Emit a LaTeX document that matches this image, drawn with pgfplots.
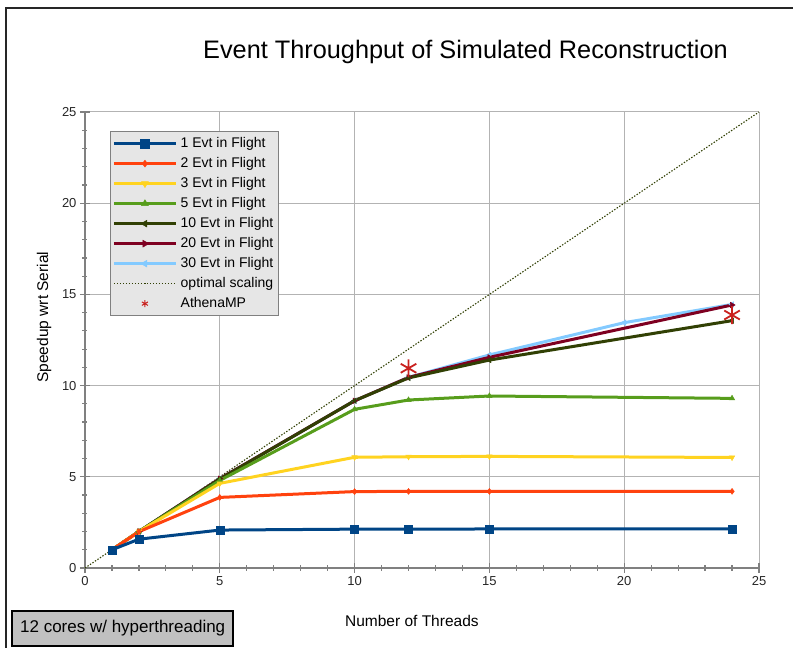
\documentclass[border=0pt]{standalone}
\usepackage{fontspec}
\setmainfont{Liberation Sans}
\usepackage{pgfplots}
\pgfplotsset{compat=1.18}
\definecolor{c1}{HTML}{004586}
\definecolor{c2}{HTML}{FF420E}
\definecolor{c3}{HTML}{FFD320}
\definecolor{c5}{HTML}{579D1C}
\definecolor{c10}{HTML}{314004}
\definecolor{c20}{HTML}{7E0021}
\definecolor{c30}{HTML}{83CAFF}
\definecolor{athena}{HTML}{C9211E}
\definecolor{axgray}{HTML}{808080}
\definecolor{gridgray}{HTML}{B3B3B3}
\definecolor{legfill}{HTML}{E6E6E6}
\definecolor{boxgray}{HTML}{C0C0C0}
\begin{document}
\begin{tikzpicture}
\path[use as bounding box] (-85pt,-80pt) rectangle (708pt,568pt);
\begin{axis}[
  at={(0pt,0pt)}, anchor=south west,
  scale only axis, width=674pt, height=456pt,
  xmin=0, xmax=25, ymin=0, ymax=25,
  xtick={0,5,...,25}, ytick={0,5,...,25},
  minor tick num=4,
  axis x line*=bottom, axis y line*=left,
  axis line style={draw=axgray, line width=2pt, -},
  grid=major, major grid style={draw=gridgray, line width=1pt},
  tick style={draw=axgray, line width=1.2pt},
  tick align=center,
  major tick length=10pt, minor tick length=5pt,
  /pgf/number format/assume math mode=true,
  ticklabel style={font=\fontsize{13}{15}\selectfont, text=black!85},
  title={Event Throughput of Simulated Reconstruction},
  title style={at={(axis description cs:0.5645,1.105)}, anchor=base, font=\fontsize{25.3}{30}\selectfont},
  xlabel={Number of Threads},
  xlabel style={at={(axis description cs:0.485,-0.129)}, anchor=base, font=\fontsize{15.5}{18}\selectfont},
  ylabel={Speedup wrt Serial},
  ylabel style={at={(axis description cs:-0.0608,0.55)}, anchor=center, font=\fontsize{15.5}{18}\selectfont},
  legend style={at={(axis description cs:0.037,0.958)}, anchor=north west,
    fill=legfill, draw=axgray, line width=1pt,
    font=\fontsize{14}{16}\selectfont,
    nodes={text height=10.5pt, text depth=3pt, inner sep=3.25pt},
    row sep=0pt, inner sep=2pt},
  legend cell align=left,
  legend image code/.code={\draw[mark repeat=2,mark phase=2] plot coordinates {(0pt,0pt)(31pt,0pt)(62pt,0pt)};},
  clip=false,
]
% optimal scaling
\addplot[c10, dash pattern=on 1.4pt off 1.6pt, line width=1.1pt, forget plot] coordinates {(0,0) (25,25)};
% 30 Evt
\addplot[c30, line width=3pt, mark=triangle*, mark size=3.2pt, mark options={solid, rotate=90, line width=0.4pt}, forget plot]
  coordinates {(1,1) (2,2) (5,4.9) (10,9.17) (12,10.45) (15,11.68) (20,13.45) (24,14.45)};
% 20 Evt
\addplot[c20, line width=3pt, mark=triangle*, mark size=3.2pt, mark options={solid, rotate=-90, line width=0.4pt}, forget plot]
  coordinates {(1,1) (2,2) (5,4.9) (10,9.17) (12,10.45) (15,11.55) (24,14.42)};
% 10 Evt
\addplot[c10, line width=3pt, mark=triangle*, mark size=3.2pt, mark options={solid, rotate=90, line width=0.4pt}, forget plot]
  coordinates {(1,1) (2,2) (5,4.88) (10,9.17) (12,10.42) (15,11.4) (24,13.56)};
% 5 Evt
\addplot[c5, line width=3pt, mark=triangle*, mark size=3.2pt, mark options={solid, line width=0.4pt}, forget plot]
  coordinates {(1,1) (2,2) (5,4.8) (10,8.7) (12,9.21) (15,9.43) (24,9.3)};
% 3 Evt
\addplot[c3, line width=3pt, mark=triangle*, mark size=3.2pt, mark options={solid, rotate=180, line width=0.4pt}, forget plot]
  coordinates {(1,1) (2,2) (5,4.64) (10,6.07) (12,6.1) (15,6.12) (24,6.06)};
% 2 Evt
\addplot[c2, line width=3pt, mark=diamond*, mark size=3pt, mark options={solid, line width=0.4pt}, forget plot]
  coordinates {(1,1) (2,1.99) (5,3.87) (10,4.19) (12,4.2) (15,4.2) (24,4.2)};
% 1 Evt
\addplot[c1, line width=3pt, mark=square*, mark size=4pt, mark options={solid, line width=0.4pt}, forget plot]
  coordinates {(1,1) (2,1.58) (5,2.08) (10,2.13) (12,2.13) (15,2.14) (24,2.14)};
% AthenaMP
\addplot[athena, only marks, mark=asterisk, mark size=9pt, line width=1.8pt, forget plot]
  coordinates {(12,10.95) (24,13.87)};

\addlegendimage{c1, line width=3pt, mark=square*, mark size=4.5pt, mark options={solid, line width=0.4pt}}
\addlegendentry{1 Evt in Flight}
\addlegendimage{c2, line width=3pt, mark=diamond*, mark size=3.5pt, mark options={solid, line width=0.4pt}}
\addlegendentry{2 Evt in Flight}
\addlegendimage{c3, line width=3pt, mark=triangle*, mark size=4pt, mark options={solid, rotate=180, line width=0.4pt}}
\addlegendentry{3 Evt in Flight}
\addlegendimage{c5, line width=3pt, mark=triangle*, mark size=4pt, mark options={solid, line width=0.4pt}}
\addlegendentry{5 Evt in Flight}
\addlegendimage{c10, line width=3pt, mark=triangle*, mark size=4pt, mark options={solid, rotate=90, line width=0.4pt}}
\addlegendentry{10 Evt in Flight}
\addlegendimage{c20, line width=3pt, mark=triangle*, mark size=4pt, mark options={solid, rotate=-90, line width=0.4pt}}
\addlegendentry{20 Evt in Flight}
\addlegendimage{c30, line width=3pt, mark=triangle*, mark size=4pt, mark options={solid, rotate=90, line width=0.4pt}}
\addlegendentry{30 Evt in Flight}
\addlegendimage{c10, dash pattern=on 1.4pt off 1.6pt, line width=1.1pt}
\addlegendentry{optimal scaling}
\addlegendimage{athena, only marks, mark=asterisk, mark size=3.5pt, line width=1pt}
\addlegendentry{AthenaMP}
\end{axis}
\draw[line width=1.5pt, black!85] (-79pt,-80pt) -- (-79pt,560pt) -- (708pt,560pt);
\node[draw=black, line width=1.5pt, fill=boxgray, minimum width=221pt, minimum height=35pt, inner sep=0pt,
  font=\fontsize{17}{20}\selectfont] at (37.7pt,-60.5pt) {12 cores w/ hyperthreading};
\end{tikzpicture}
\end{document}
